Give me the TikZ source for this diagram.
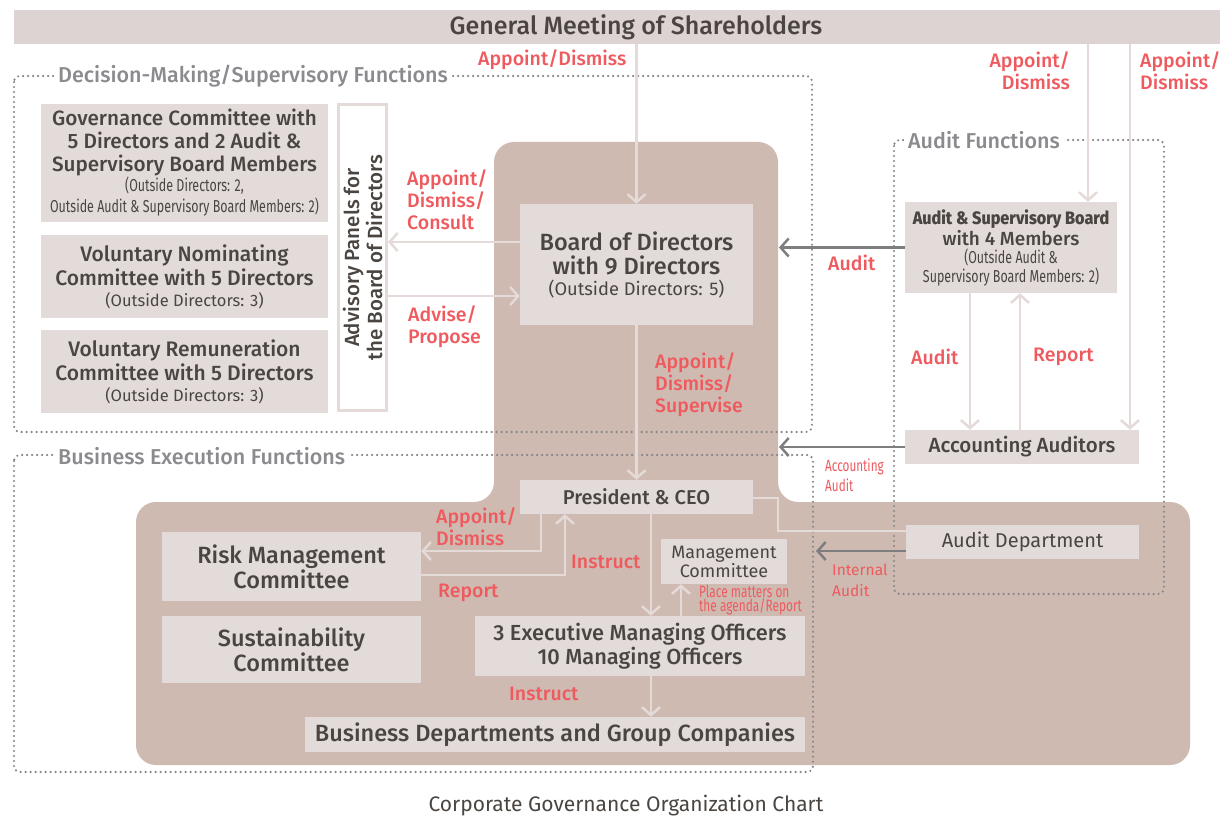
\documentclass[tikz,border=0pt]{standalone}
\usepackage{fontspec}
\setmainfont{Fira Sans}[BoldFont={Fira Sans Medium}]
\newfontfamily\condf{Fira Sans}[FakeStretch=0.72]
\newfontfamily\condb{Fira Sans Medium}[FakeStretch=0.9]
\usetikzlibrary{arrows.meta}
\definecolor{barc}{HTML}{DDD3D2}
\definecolor{boxc}{HTML}{E3DBDA}
\definecolor{brownc}{HTML}{CEBAB1}
\definecolor{txtc}{HTML}{4A4540}
\definecolor{redc}{HTML}{EF5A5F}
\definecolor{grayc}{HTML}{8A8A8F}
\definecolor{linec}{HTML}{E4DAD8}
\definecolor{darkc}{HTML}{7E7E80}
\definecolor{dotc}{HTML}{85858A}
\newcommand{\fs}[2]{\fontsize{#1}{#2}\selectfont}
\newcommand{\smc}{\condf\mdseries\fs{17.3}{19}}
\begin{document}
\begin{tikzpicture}[x=1pt,y=-1pt,
  box/.style={fill=boxc, inner sep=0pt, align=center, text=txtc, font=\bfseries\fs{20}{23}},
  larrow/.style={draw=linec, line width=2.5pt, -{Straight Barb[length=8pt,width=18pt]}},
  lline/.style={draw=linec, line width=2.5pt},
  darrow/.style={draw=darkc, line width=2.5pt, -{Straight Barb[length=8pt,width=18pt]}},
  dotbox/.style={draw=dotc, line width=2.4pt, dash pattern=on 0pt off 5pt, line cap=round, rounded corners=6pt},
  redl/.style={text=redc, font=\bfseries\fs{19.5}{22}, align=left, inner sep=0pt, anchor=west},
  grayl/.style={text=grayc, font=\bfseries\fs{21.5}{24}, fill=white, inner xsep=4pt, inner ysep=0pt, anchor=west}]
\useasboundingbox (0,0) rectangle (1220,818);
\fill[white] (0,0) rectangle (1220,818);
% brown region
\fill[brownc, rounded corners=20pt] (494,142) -- (778,142) -- (778,502) -- (1190,502) -- (1190,765) -- (136,765) -- (136,502) -- (494,502) -- cycle;
% dotted function areas
\draw[dotbox] (14,76) rectangle (812,432);
\draw[dotbox] (14,455) rectangle (813,772);
\draw[dotbox] (894,140) rectangle (1164,594);
\node[grayl] (dmlab) at (54,76) {Decision-Making/Supervisory Functions};
\node[grayl] (aflab) at (904,140) {Audit Functions};
\node[grayl] (belab) at (54,456) {Business Execution Functions};
% top bar
\node[fill=barc, minimum width=1206pt, minimum height=34pt, inner sep=0pt] (gms) at (617,27) {};
\node[font=\bfseries\fs{25}{28}, text=txtc] (gmstitle) at (636,27) {General Meeting of Shareholders};
% boxes
\node[box, minimum width=233pt, minimum height=121pt, font=\bfseries\fs{23.5}{24}] (bod) at (636.5,264.5)
  {Board of Directors\\with 9 Directors\\[-3pt]{\mdseries\fs{18.3}{20}(Outside Directors: 5)}};
\node[fill=white, draw=linec, line width=3pt, minimum width=306pt, minimum height=48pt, inner sep=0pt,
  rotate=90, text=txtc, font=\bfseries\fs{20.5}{23}, align=center] (adv) at (362.5,257.5)
  {Advisory Panels for\\the Board of Directors};
\node[box, minimum width=287pt, minimum height=118pt, font=\bfseries\fs{20.7}{23}] (gov) at (184.5,163)
  {Governance Committee with\\5 Directors and 2 Audit \&\\Supervisory Board Members\\[-3pt]
   {\smc(Outside Directors: 2,}\\[-2pt]{\smc Outside Audit \& Supervisory Board Members: 2)}};
\node[box, minimum width=287pt, minimum height=83pt, font=\bfseries\fs{21}{24}] (nom) at (184.5,276.5)
  {Voluntary Nominating\\Committee with 5 Directors\\[-3pt]{\mdseries\fs{16.5}{20}(Outside Directors: 3)}};
\node[box, minimum width=287pt, minimum height=83pt, font=\bfseries\fs{21}{24}] (rem) at (184.5,371.5)
  {Voluntary Remuneration\\Committee with 5 Directors\\[-3pt]{\mdseries\fs{16.5}{20}(Outside Directors: 3)}};
\node[box, minimum width=212pt, minimum height=91pt, font=\bfseries\fs{19}{21}] (asb) at (1011,247.5)
  {{\condb\fs{18}{21}Audit \& Supervisory Board}\\with 4 Members\\[-3pt]{\smc(Outside Audit \&}\\[-2pt]{\smc Supervisory Board Members: 2)}};
\node[box, minimum width=234pt, minimum height=34pt, font=\bfseries\fs{20.5}{23}] (acc) at (1022,447) {Accounting Auditors};
\node[box, minimum width=233pt, minimum height=34pt] (pres) at (636.5,497) {President \& CEO};
\node[box, minimum width=233pt, minimum height=34pt, font=\mdseries\fs{20}{23}] (aud) at (1022.5,542) {Audit Department};
\node[box, minimum width=259pt, minimum height=69pt, font=\bfseries\fs{23.5}{25}] (risk) at (291.5,566.5) {Risk Management\\Committee};
\node[box, minimum width=259pt, minimum height=67pt, font=\bfseries\fs{23.5}{25}] (sus) at (291.5,649.5) {Sustainability\\Committee};
\node[box, minimum width=126pt, minimum height=45pt, font=\mdseries\fs{18}{19}] (mgmt) at (724,561.5) {Management\\Committee};
\node[box, minimum width=330pt, minimum height=60pt, font=\bfseries\fs{21.8}{24}] (exec) at (640,646) {3 Executive Managing Officers\\10 Managing Officers};
\node[box, minimum width=500pt, minimum height=35pt, font=\bfseries\fs{23.5}{24}] (bus) at (555,734.5) {Business Departments and Group Companies};
% coordinates
\coordinate (asbin) at ([xshift=77pt]asb.north);
\coordinate (accin) at ([xshift=108pt]acc.north);
\coordinate (auditend) at (779,247.5);
\coordinate (accend) at (779,447);
\coordinate (audend) at (816,551);
% connectors
\draw[larrow] (gms.south -| bod.north) -- (bod.north);
\draw[larrow] (gms.south -| asbin) -- (asbin);
\draw[larrow] (gms.south -| accin) -- (accin);
\draw[larrow] (bod.west |- 0,242) -- (adv.south |- 0,242);
\draw[larrow] (adv.south |- 0,296) -- (bod.west |- 0,296);
\draw[larrow] (bod.south) -- (pres.north);
\draw[darrow] (asb.west) -- (auditend);
\draw[darrow] (acc.west) -- (accend);
\draw[darrow] (aud.west |- 0,551) -- (audend);
\draw[larrow] (asb.south -| 970,0) -- (acc.north -| 970,0);
\draw[larrow] (acc.north -| 1020,0) -- (asb.south -| 1020,0);
\draw[larrow] (pres.south -| 541,0) -- (541,551) -- (risk.east |- 0,551);
\draw[larrow] (risk.east |- 0,575) -- (565,575) -- (pres.south -| 565,0);
\draw[larrow] (pres.south -| 651,0) -- (exec.north -| 651,0);
\draw[larrow] (exec.north -| 681,0) -- (mgmt.south -| 681,0);
\draw[larrow] (exec.south -| 651,0) -- (bus.north -| 651,0);
\draw[lline] (pres.east |- 0,498) -- (778,498) -- (778,531) -- (aud.west |- 0,531);
% red labels
\node[redl] (l1) at (478,60) {Appoint/Dismiss};
\node[redl, align=right, anchor=east] (l2) at (1070,71) {Appoint/\\Dismiss};
\node[redl] (l3) at (1140,71) {Appoint/\\Dismiss};
\node[redl] (l4) at (407,200) {Appoint/\\Dismiss/\\Consult};
\node[redl] (l5) at (408,327) {Advise/\\Propose};
\node[redl] (l6) at (655,385) {Appoint/\\Dismiss/\\Supervise};
\node[redl] (l7) at (828,263) {Audit};
\node[redl] (l8) at (911,357) {Audit};
\node[redl] (l9) at (1033,357) {Report};
\node[redl, font=\condf\fs{16.3}{20}] (l10) at (825,475) {Accounting\\Audit};
\node[redl] (l11) at (436,527) {Appoint/\\Dismiss};
\node[redl] (l12) at (571,562) {Instruct};
\node[redl] (l13) at (438,593) {Report};
\node[redl, font=\condf\fs{16.5}{13.5}] (l14) at (699,600) {Place matters on\\the agenda/Report};
\node[redl] (l15) at (509,694) {Instruct};
\node[redl, font=\mdseries\fs{15.5}{21}] (l16) at (832,580) {Internal\\Audit};
% caption
\node[font=\fs{21}{24}, text=txtc] (cap) at (626,806) {Corporate Governance Organization Chart};
\end{tikzpicture}
\end{document}
